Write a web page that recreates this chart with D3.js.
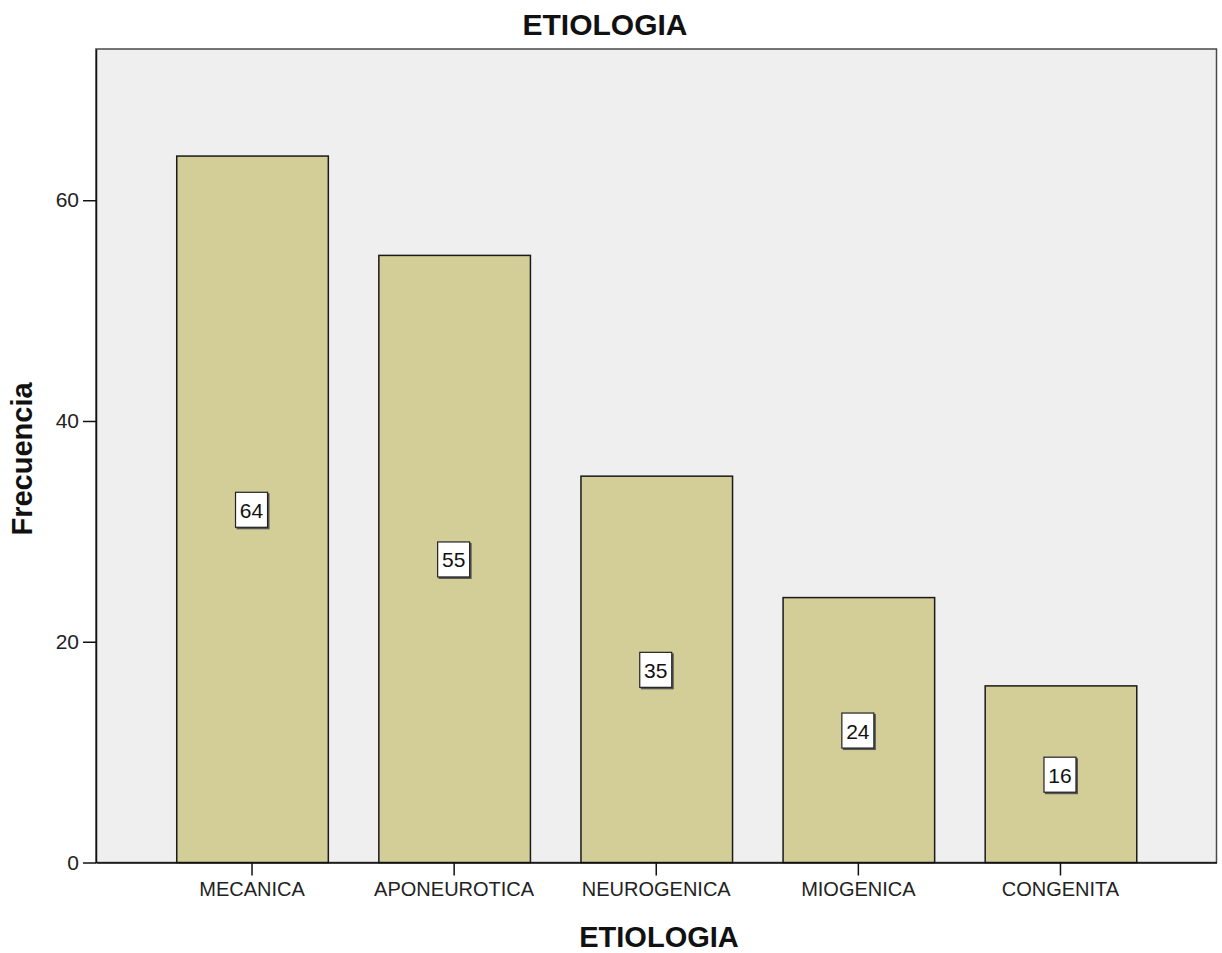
<!DOCTYPE html>
<html><head><meta charset="utf-8">
<script src="https://cdn.jsdelivr.net/npm/d3@7"></script>
<style>body{margin:0;background:#fff}svg{display:block;font-family:"Liberation Sans",Arial,sans-serif}</style>
</head><body><svg id="c" width="1222" height="953"></svg>
<script>
const categories = ["MECANICA","APONEUROTICA","NEUROGENICA","MIOGENICA","CONGENITA"];
const values = [64,55,35,24,16];
const yTicks = [0,20,40,60];
const title = "ETIOLOGIA", xTitle = "ETIOLOGIA", yTitle = "Frecuencia";

const svg = d3.select("#c");
const L=96, R=1216.5, T=49, B=862.5;
const x = d3.scaleBand().domain(categories).range([L,R]).paddingInner(0.25).paddingOuter(0.397);
const y = d3.scaleLinear().domain([0,73.7]).range([B,T]);

svg.append("rect").attr("x",L).attr("y",T).attr("width",R-L).attr("height",B-T)
  .attr("fill","#efefef").attr("stroke","#4a4a4a").attr("stroke-width",1.5);

const data = categories.map((c,i)=>({c,v:values[i]}));
svg.selectAll("rect.bar").data(data).join("rect").attr("class","bar")
  .attr("x",d=>x(d.c)+0.5).attr("y",d=>y(d.v)).attr("width",x.bandwidth()).attr("height",d=>B-y(d.v))
  .attr("fill","#d3ce97").attr("stroke","#1a1a1a").attr("stroke-width",1.5);

const lab = svg.selectAll("g.lab").data(data).join("g").attr("class","lab")
  .attr("transform",d=>`translate(${x(d.c)+x.bandwidth()/2},${y(d.v/2)})`);
lab.append("rect").attr("x",-15.5).attr("y",-16).attr("width",33).attr("height",36).attr("fill","#555");
lab.append("rect").attr("x",-16.5).attr("y",-17).attr("width",32).attr("height",35)
  .attr("fill","#fff").attr("stroke","#222").attr("stroke-width",1.2);
lab.append("text").attr("x",-0.5).attr("y",8.5).attr("text-anchor","middle").attr("font-size",21).attr("fill","#111").text(d=>d.v);

const ya = svg.append("g").attr("transform",`translate(${L},0)`)
  .call(d3.axisLeft(y).tickValues(yTicks).tickSize(13).tickSizeOuter(0).tickPadding(4).tickFormat(d3.format("d")));
ya.select(".domain").attr("stroke","#111").attr("stroke-width",1.5);
ya.selectAll(".tick line").attr("stroke","#111").attr("stroke-width",1.5);
ya.selectAll(".tick text").attr("font-size",21).attr("fill","#222").attr("font-family","Liberation Sans, Arial, sans-serif");

const xa = svg.append("g").attr("transform",`translate(0,${B})`)
  .call(d3.axisBottom(x).tickSize(13).tickPadding(6).tickSizeOuter(0));
xa.select(".domain").attr("stroke","#111").attr("stroke-width",1.5);
xa.selectAll(".tick line").attr("stroke","#111").attr("stroke-width",1.5);
xa.selectAll(".tick text").attr("font-size",20).attr("fill","#222").attr("font-family","Liberation Sans, Arial, sans-serif");

svg.append("text").attr("x",605).attr("y",35).attr("text-anchor","middle").attr("font-size",30).attr("font-weight","bold").attr("fill","#111").text(title);
svg.append("text").attr("x",659).attr("y",947).attr("text-anchor","middle").attr("font-size",29).attr("font-weight","bold").attr("fill","#111").text(xTitle);
svg.append("text").attr("transform","translate(32,459) rotate(-90)").attr("text-anchor","middle").attr("font-size",29).attr("font-weight","bold").attr("fill","#111").text(yTitle);
</script></body></html>
